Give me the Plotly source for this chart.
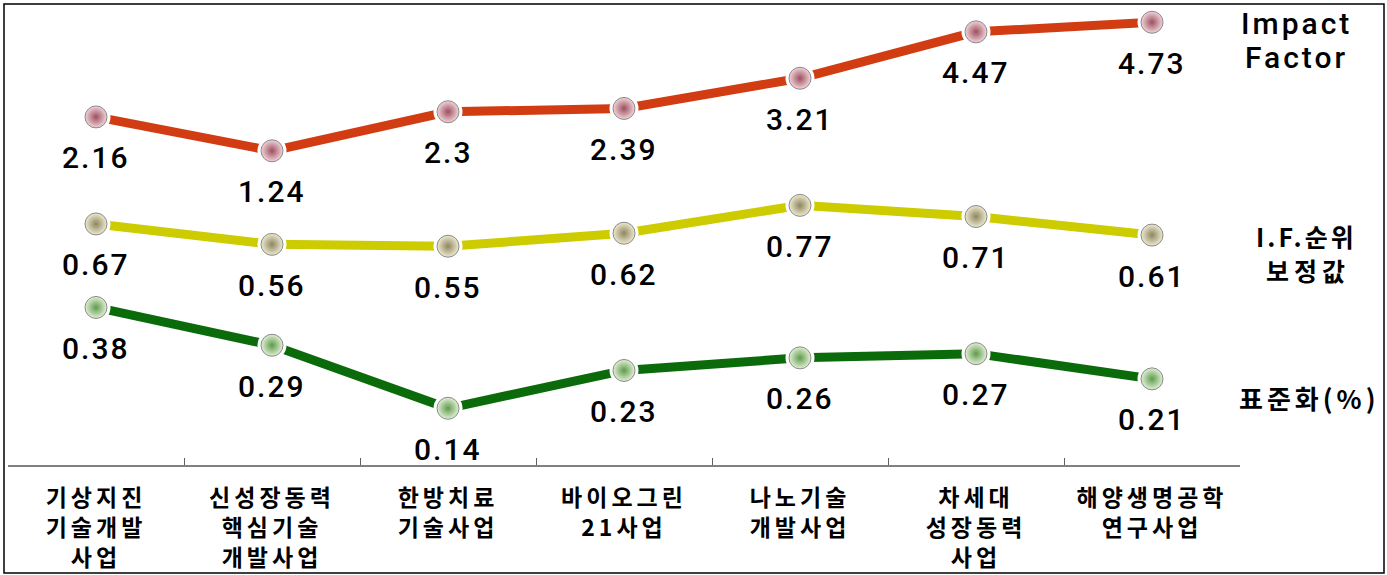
import plotly.graph_objects as go

categories = ["기상지진<br>기술개발<br>사업", "신성장동력<br>핵심기술<br>개발사업", "한방치료<br>기술사업",
              "바이오그린<br>21사업", "나노기술<br>개발사업", "차세대<br>성장동력<br>사업", "해양생명공학<br>연구사업"]
impact_factor = [2.16, 1.24, 2.3, 2.39, 3.21, 4.47, 4.73]
if_rank_adj = [0.67, 0.56, 0.55, 0.62, 0.77, 0.71, 0.61]
standardized = [0.38, 0.29, 0.14, 0.23, 0.26, 0.27, 0.21]
value_texts_if = ["2.16", "1.24", "2.3", "2.39", "3.21", "4.47", "4.73"]

W, H = 1387, 575
L, R, T, B = 8, 147, 2, 110
PW, PH = W - L - R, H - T - B

def px(x):
    return (x - L) / PW

def py(y):
    return (H - B - y) / PH

def spaced(t, sp):
    return f'<span style="letter-spacing:{sp}px">{t}</span>'

series = [
    dict(y=impact_factor, axis="y", line="#d23c12", mc="#f2d4da", mg="#9c4f5e", texts=value_texts_if),
    dict(y=if_rank_adj, axis="y2", line="#cccc00", mc="#eeead0", mg="#8e8660", texts=None),
    dict(y=standardized, axis="y3", line="#0b6b0b", mc="#e2f0d6", mg="#5f9a4c", texts=None),
]

fig = go.Figure()
annotations = []
num_font = dict(family="Roboto", size=30, color="black", weight=500)
for s in series:
    fig.add_trace(go.Scatter(x=categories, y=s["y"], yaxis=s["axis"], mode="lines",
                             line=dict(color=s["line"], width=9), hoverinfo="skip", showlegend=False))
    fig.add_trace(go.Scatter(x=categories, y=s["y"], yaxis=s["axis"], mode="markers",
                             marker=dict(color="white", size=29), hoverinfo="skip", showlegend=False))
    fig.add_trace(go.Scatter(x=categories, y=s["y"], yaxis=s["axis"], mode="markers",
                             marker=dict(color=s["mc"], size=22,
                                         gradient=dict(type="radial", color=s["mg"]),
                                         line=dict(color="#8a8a8a", width=1)),
                             hoverinfo="skip", showlegend=False))
    texts = s["texts"] or [f"{v:.2f}" for v in s["y"]]
    for c, v, t in zip(categories, s["y"], texts):
        annotations.append(dict(x=c, y=v, xref="x", yref=s["axis"], text=spaced(t, 2), showarrow=False,
                                xanchor="center", yanchor="middle",
                                yshift=-41, font=num_font))

legend_font_r = dict(family="Roboto", size=30, color="black", weight=500)
legend_font_b = dict(family="Noto Sans CJK KR", size=25, color="black", weight="bold")
legend_items = [
    ("Impact", 1296, 24, legend_font_r, 3),
    ("Factor", 1296, 57, legend_font_r, 3),
    ("I.F.순위", 1306, 236, legend_font_b, 3),
    ("보정값", 1308, 270, legend_font_b, 5),
    ("표준화(%)", 1309, 397, dict(family="Noto Sans CJK KR", size=26, color="black", weight="bold"), 4),
]
for t, x, y, f, sp in legend_items:
    annotations.append(dict(x=px(x), y=py(y), xref="paper", yref="paper", text=spaced(t, sp),
                            showarrow=False, xanchor="center", yanchor="middle", font=f))

fig.update_layout(
    width=W, height=H,
    margin=dict(l=L, r=R, t=T, b=B),
    paper_bgcolor="white", plot_bgcolor="white",
    showlegend=False,
    annotations=annotations,
    shapes=[dict(type="rect", xref="paper", yref="paper",
                 x0=px(4), x1=px(1384), y0=py(573), y1=py(4),
                 line=dict(color="black", width=1.5), fillcolor="rgba(0,0,0,0)", layer="below")],
    xaxis=dict(type="category", range=[-0.5, 6.5], showgrid=False, zeroline=False,
               showline=True, linecolor="#808080", linewidth=1.5,
               ticks="inside", ticklen=7, tickcolor="#606060", tickson="boundaries",
               tickmode="array", tickvals=categories, ticktext=[spaced(c, 4) for c in categories],
               tickfont=dict(family="Noto Sans CJK KR", size=23, color="black", weight="bold"),
               ticklabelstandoff=12),
    yaxis=dict(range=[-7.29, 5.28], visible=False),
    yaxis2=dict(range=[-0.628, 1.865], visible=False, overlaying="y"),
    yaxis3=dict(range=[0.005, 1.107], visible=False, overlaying="y"),
)

fig.write_html("out.html", config={"displayModeBar": False},
               post_script="document.body.style.margin='0';document.body.style.overflow='hidden';")
